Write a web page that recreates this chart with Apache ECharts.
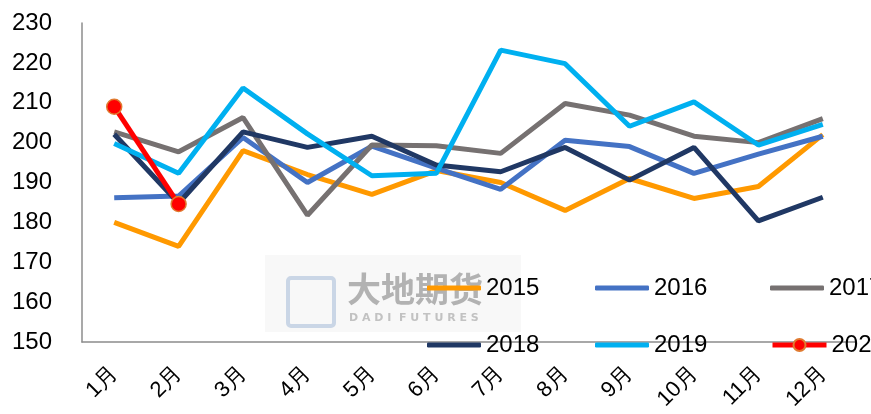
<!DOCTYPE html>
<html>
<head>
<meta charset="utf-8">
<script src="https://cdn.jsdelivr.net/npm/echarts@6/dist/echarts.min.js"></script>
<style>
html, body { margin: 0; padding: 0; background: #fff; }
#chart { width: 871px; height: 414px; }
</style>
</head>
<body>
<div id="chart"></div>
<script>
// 月份
const months = ['1月', '2月', '3月', '4月', '5月', '6月', '7月', '8月', '9月', '10月', '11月', '12月']
const years = ['2015', '2016', '2017', '2018', '2019', '2020']
const colors = ['#FF9900', '#4472C4', '#767171', '#203864', '#00B0F0', '#FF0000']

const y2015 = [180, 174, 198, 192, 187, 193, 190, 183, 191, 186, 189, 202]
const y2016 = [186.2, 186.6, 201.3, 190, 199.1, 193.6, 188.3, 200.6, 199, 192.3, 197.1, 201.6]
const y2017 = [202.7, 197.7, 206.3, 181.8, 199.4, 199.2, 197.3, 209.8, 206.9, 201.6, 200, 206]
const y2018 = [202.1, 184.8, 202.7, 198.8, 201.6, 194.4, 192.7, 198.8, 190.6, 198.8, 180.4, 186.3]
const y2019 = [199.8, 192.3, 213.7, 202.2, 191.7, 192.3, 223.2, 219.8, 204.1, 210.2, 199.4, 204.6]
const y2020 = [209, 184.6]

const yTicks = { min: 150, max: 230, interval: 10 }

const font = 'Liberation Sans'
const allData = [y2015, y2016, y2017, y2018, y2019, y2020]

const chart = echarts.init(document.getElementById('chart'))

// 图例位置 (每个一项)
const legendPos = [
	{ left: 427, top: 276 },
	{ left: 595, top: 276 },
	{ left: 770, top: 276 },
	{ left: 427, top: 333 },
	{ left: 595, top: 333 },
	{ left: 770, top: 333 },
]

chart.setOption({
	animation: false,
	color: colors,
	grid: {
		left: 82,
		right: 16,
		top: 23,
		bottom: 72,
	},
	legend: years.map((y, i) => {
		const lg = {
			data: [y],
			left: legendPos[i].left,
			top: legendPos[i].top,
			padding: 0,
			itemWidth: 54,
			itemHeight: 5,
			itemGap: 0,
			icon: 'roundRect',
			textStyle: { fontFamily: font, fontSize: 24, color: '#000' },
		}
		if (y === '2020') {
			delete lg.icon
			lg.itemHeight = 15
			lg.lineStyle = { width: 5 }
		}
		return lg
	}),
	graphic: [
		{
			type: 'rect',
			z: 0,
			shape: { x: 265, y: 255, width: 256, height: 77 },
			style: { fill: '#f8f8f8' },
		},
		{
			type: 'rect',
			z: 0,
			shape: { x: 288, y: 278, width: 46, height: 48, r: 3 },
			style: { fill: 'none', stroke: 'rgba(190,205,225,0.8)', lineWidth: 4 },
		},
		{
			type: 'text',
			z: 0,
			left: 347,
			top: 272,
			style: {
				text: '大地期货',
				fill: 'rgba(120,120,120,0.55)',
				font: 'bold 34px "Noto Sans CJK SC"',
			},
		},
		{
			type: 'text',
			z: 0,
			left: 349,
			top: 313,
			style: {
				text: 'D A D I  F U T U R E S',
				fill: 'rgba(140,140,140,0.5)',
				font: 'bold 11px "DejaVu Sans"',
			},
		},
	],
	xAxis: {
		type: 'category',
		data: months,
		boundaryGap: true,
		axisLine: { lineStyle: { color: '#8c8c8c', width: 1.5 } },
		axisTick: { show: false },
		axisLabel: {
			rotate: 45,
			margin: 28,
			fontFamily: font,
			fontSize: 22,
			color: '#000',
		},
	},
	yAxis: {
		type: 'value',
		min: yTicks.min,
		max: yTicks.max,
		interval: yTicks.interval,
		splitLine: { show: false },
		axisLine: { show: true, lineStyle: { color: '#8c8c8c', width: 1.5 } },
		axisTick: { show: false },
		axisLabel: {
			margin: 30,
			fontFamily: font,
			fontSize: 24,
			color: '#000',
		},
	},
	series: years.map((y, i) => {
		const s = {
			name: y,
			type: 'line',
			data: allData[i],
			lineStyle: { width: 5, color: colors[i] },
			itemStyle: { color: colors[i] },
			symbol: 'none',
			z: 2 + i,
		}
		if (y === '2020') {
			s.symbol = 'circle'
			s.symbolSize = 15
			s.itemStyle = { color: '#FF0000', borderColor: '#E07A30', borderWidth: 1.5 }
		}
		return s
	}),
})
</script>
</body>
</html>
